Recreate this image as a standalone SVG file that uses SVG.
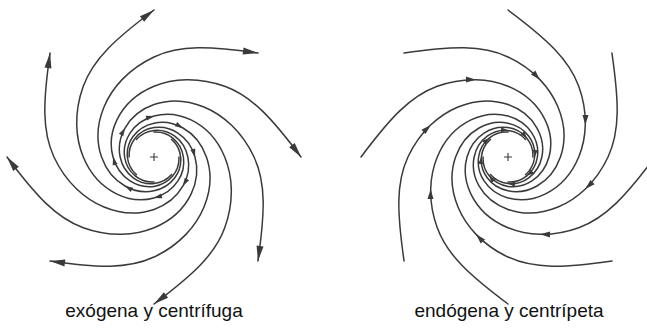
<svg xmlns="http://www.w3.org/2000/svg" xmlns:xlink="http://www.w3.org/1999/xlink" width="647" height="333" viewBox="0 0 647 333">
<style>
.arm{fill:none;stroke:#3a3a3a;stroke-width:1.5;stroke-linecap:round}
.ah{fill:#3a3a3a}
.plus{fill:none;stroke:#3a3a3a;stroke-width:1.1}
.lbl{font-family:"Liberation Sans",Arial,sans-serif;font-size:19px;fill:#111;text-anchor:middle}
</style>
<defs>
<path id="arm" class="arm" d="M147,0 C118.2,-38.5 97.93,-60.89 70.74,-70.74 C43.55,-80.59 18.51,-78.37 0,-70.72 C-18.51,-63.07 -30.74,-50.15 -37.07,-37.07 C-43.40,-23.99 -43.97,-10.73 -40.99,0 C-38.01,10.73 -31.52,18.99 -23.94,23.94 C-16.36,28.89 -7.70,30.56 0,29.40 C7.70,28.24 14.41,24.26 18.82,18.82 C23.23,13.38 25.33,6.51 24.88,0"/>
<g id="armL">
<use xlink:href="#arm" href="#arm"/>
<polygon class="ah" points="0,0 -15,-3.5 -15,3.5" transform="translate(147,0) rotate(53)"/>
<polygon class="ah" points="0,0 -8,-2.5 -8,2.5" transform="translate(-40.99,0) rotate(-105.5)"/>
</g>
<g id="armR">
<use xlink:href="#arm" href="#arm"/>
<polygon class="ah" points="0,0 -10,-3 -10,3" transform="translate(32.01,-77.28) rotate(178.6)"/>
<polygon class="ah" points="0,0 -7,-2.5 -7,2.5" transform="translate(18.82,18.82) rotate(-50.9)"/>
</g>
</defs>
<rect width="647" height="333" fill="#fff"/>
<g id="exogena" transform="translate(154,157)">
<use href="#armL" transform="rotate(-90)"/>
<use href="#armL" transform="rotate(-45)"/>
<use href="#armL" transform="rotate(0)"/>
<use href="#armL" transform="rotate(45)"/>
<use href="#armL" transform="rotate(90)"/>
<use href="#armL" transform="rotate(135)"/>
<use href="#armL" transform="rotate(180)"/>
<use href="#armL" transform="rotate(225)"/>
<path class="plus" d="M-4,0H4M0,-4V4"/>
</g>
<g id="endogena" transform="translate(508,157) scale(-1,1)">
<use href="#armR" transform="rotate(-90)"/>
<use href="#armR" transform="rotate(-45)"/>
<use href="#armR" transform="rotate(0)"/>
<use href="#armR" transform="rotate(45)"/>
<use href="#armR" transform="rotate(90)"/>
<use href="#armR" transform="rotate(135)"/>
<use href="#armR" transform="rotate(180)"/>
<use href="#armR" transform="rotate(225)"/>
<path class="plus" d="M-4,0H4M0,-4V4"/>
</g>
<text class="lbl" x="154" y="317">exógena y centrífuga</text>
<text class="lbl" x="509" y="317">endógena y centrípeta</text>
</svg>
